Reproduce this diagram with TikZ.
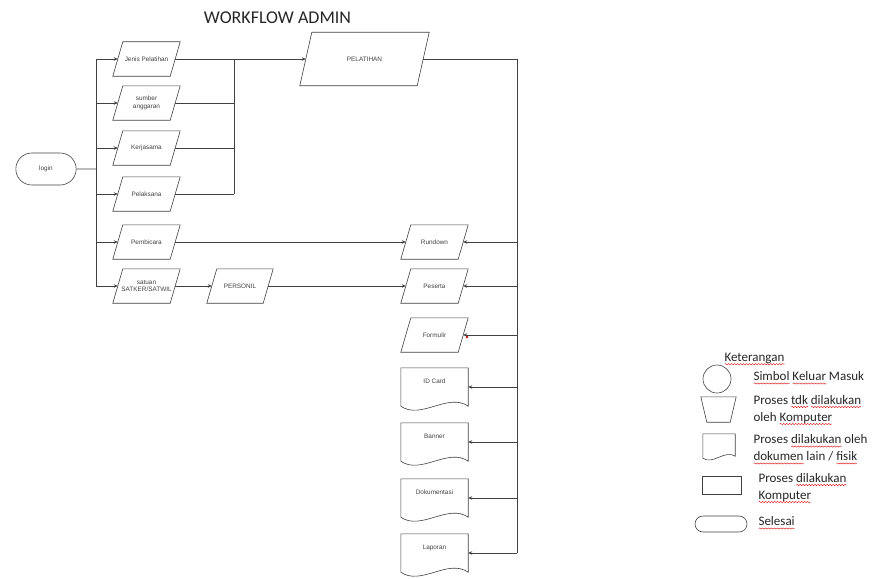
\documentclass[tikz,border=0pt]{standalone}
\usepackage{fontspec}
\setmainfont{Liberation Sans}
\newfontfamily\calibri{Carlito}
\usetikzlibrary{shapes.misc,arrows.meta,decorations.pathmorphing}
\newcommand\redwave[1]{\setbox0\hbox{#1}\rlap{\tikz[baseline=0pt]\draw[red!85!black, line width=0.4pt,
  decorate, decoration={snake, amplitude=0.6pt, segment length=3pt}] (0pt,-2.8pt) -- (\the\wd0,-2.8pt);}#1}
\tikzset{
  line/.style={draw=black!75, line width=0.6pt},
  arr/.style={line, -{Stealth[length=4pt,width=3.5pt]}},
  databox/.style={rectangle, minimum width=57pt, minimum height=34pt, inner sep=1pt,
    font=\fontsize{6.4}{7.6}\selectfont, text=black!75, align=center},
  docbox/.style={rectangle, minimum width=67pt, minimum height=38pt, inner sep=0pt,
    font=\fontsize{6.4}{7.6}\selectfont, text=black!75},
  legtext/.style={anchor=west, align=left, font=\calibri\fontsize{13}{17}\selectfont, text=black!85},
}
% parallelogram: name, position, mid width, height, half slant, text
\newcommand\datanode[6]{%
  \node[databox, minimum width=#3, minimum height=#4] (#1) at (#2) {#6};
  \draw[line] ([xshift=#5]#1.north west) -- ([xshift=#5]#1.north east)
    -- ([xshift=-#5]#1.south east) -- ([xshift=-#5]#1.south west) -- cycle;}
% document shape with wavy bottom
\newcommand\docnode[3]{%
  \node[docbox] (#1) at (434.5,#2) {\raisebox{4pt}[0pt][0pt]{#3}};
  \draw[line] (#1.north west) -- (#1.north east) -- (#1.south east)
    .. controls +(-20,-14) and +(20,14) .. (#1.south west) -- cycle;}
\begin{document}
\begin{tikzpicture}[x=1pt,y=-1pt]
\useasboundingbox (0,0) rectangle (885,578);

\node[font=\calibri\fontsize{18}{20}\selectfont, text=black!85] (title) at (277.5,18) {WORKFLOW ADMIN};

% start
\node[rounded rectangle, line, minimum width=67pt, minimum height=32pt,
  font=\fontsize{6.4}{7.6}\selectfont, text=black!75] (login) at (46,169) {login};

% input data
\datanode{jenis}{146.5,59}{57pt}{34pt}{5pt}{Jenis Pelatihan}
\datanode{sumber}{146.5,103}{57pt}{34pt}{5pt}{sumber\\anggaran}
\datanode{kerja}{146.5,148}{57pt}{34pt}{5pt}{Kerjasama}
\datanode{pelaksana}{146.5,194}{57pt}{34pt}{5pt}{Pelaksana}
\datanode{pembicara}{146.5,242}{57pt}{34pt}{5pt}{Pembicara}
\datanode{satuan}{146.5,286}{57pt}{34pt}{5pt}{satuan\\SATKER/SATWIL}
\datanode{personil}{240,286}{56pt}{34pt}{5pt}{PERSONIL}
\datanode{pelatihan}{364.5,59}{117pt}{53pt}{6pt}{PELATIHAN}

% outputs
\datanode{rundown}{434.5,242}{57pt}{34pt}{5pt}{Rundown}
\datanode{peserta}{434.5,286}{57pt}{34pt}{5pt}{Peserta}
\datanode{formulir}{434.5,335}{57pt}{34pt}{5pt}{Formulir}
\docnode{idcard}{387}{ID Card}
\docnode{banner}{442}{Banner}
\docnode{dokumentasi}{498}{Dokumentasi}
\docnode{laporan}{553}{Laporan}
\fill[red!85!black] (467,337) circle (1.3pt);

% login trunk
\coordinate (trunk) at (96,169);
\draw[line] (login) -- (trunk);
\draw[line] (trunk |- jenis) -- (trunk |- satuan);
\foreach \n in {jenis,sumber,kerja,pelaksana,pembicara,satuan}
  \draw[arr] (trunk |- \n) -- (\n.west);

% collect to PELATIHAN
\coordinate (col) at (234,59);
\foreach \n in {jenis,sumber,kerja,pelaksana}
  \draw[line] (\n.east) -- (col |- \n);
\draw[line] (col |- jenis) -- (col |- pelaksana);
\draw[arr] (col |- jenis) -- (pelatihan.west);

\draw[arr] (pembicara.east) -- (rundown.west);
\draw[arr] (satuan.east) -- (personil.west);
\draw[arr] (personil.east) -- (peserta.west);

% output bus
\coordinate (bus) at (517,59);
\draw[line] (pelatihan.east) -- (bus) -- (bus |- laporan);
\foreach \n in {rundown,peserta,formulir,idcard,banner,dokumentasi,laporan}
  \draw[arr] (bus |- \n) -- (\n.east);

% legend
\node[legtext] (ket) at (721,359) {\redwave{Keterangan}};
\node[circle, line, minimum size=28pt] (lcircle) at (717,379) {};
\node[legtext] (tcircle) at (750,378) {\redwave{Simbol} \redwave{Keluar} Masuk};
\node[rectangle, minimum width=35pt, minimum height=25pt, inner sep=0pt] (lmanual) at (718.5,409.5) {};
\draw[line] (lmanual.north west) -- (lmanual.north east) -- ([xshift=-6pt]lmanual.south east)
  -- ([xshift=6pt]lmanual.south west) -- cycle;
\node[legtext] (tmanual) at (750,410) {Proses \redwave{tdk} \redwave{dilakukan}\\oleh \redwave{Komputer}};
\node[rectangle, minimum width=32pt, minimum height=22pt, inner sep=0pt] (ldoc) at (719,445) {};
\draw[line] (ldoc.north west) -- (ldoc.north east) -- (ldoc.south east)
  .. controls +(-10,-7) and +(10,7) .. ([yshift=-2pt]ldoc.south west) -- cycle;
\node[legtext] (tdoc) at (750,449.5) {Proses \redwave{dilakukan} oleh\\\redwave{dokumen} lain / \redwave{fisik}};
\node[rectangle, line, minimum width=39pt, minimum height=18pt] (lproc) at (721.5,485) {};
\node[legtext] (tproc) at (755,488) {Proses \redwave{dilakukan}\\\redwave{Komputer}};
\node[rounded rectangle, line, minimum width=52pt, minimum height=16pt, inner sep=0pt] (lend) at (721,524) {};
\node[legtext] (tend) at (755,523) {\redwave{Selesai}};
\end{tikzpicture}
\end{document}
